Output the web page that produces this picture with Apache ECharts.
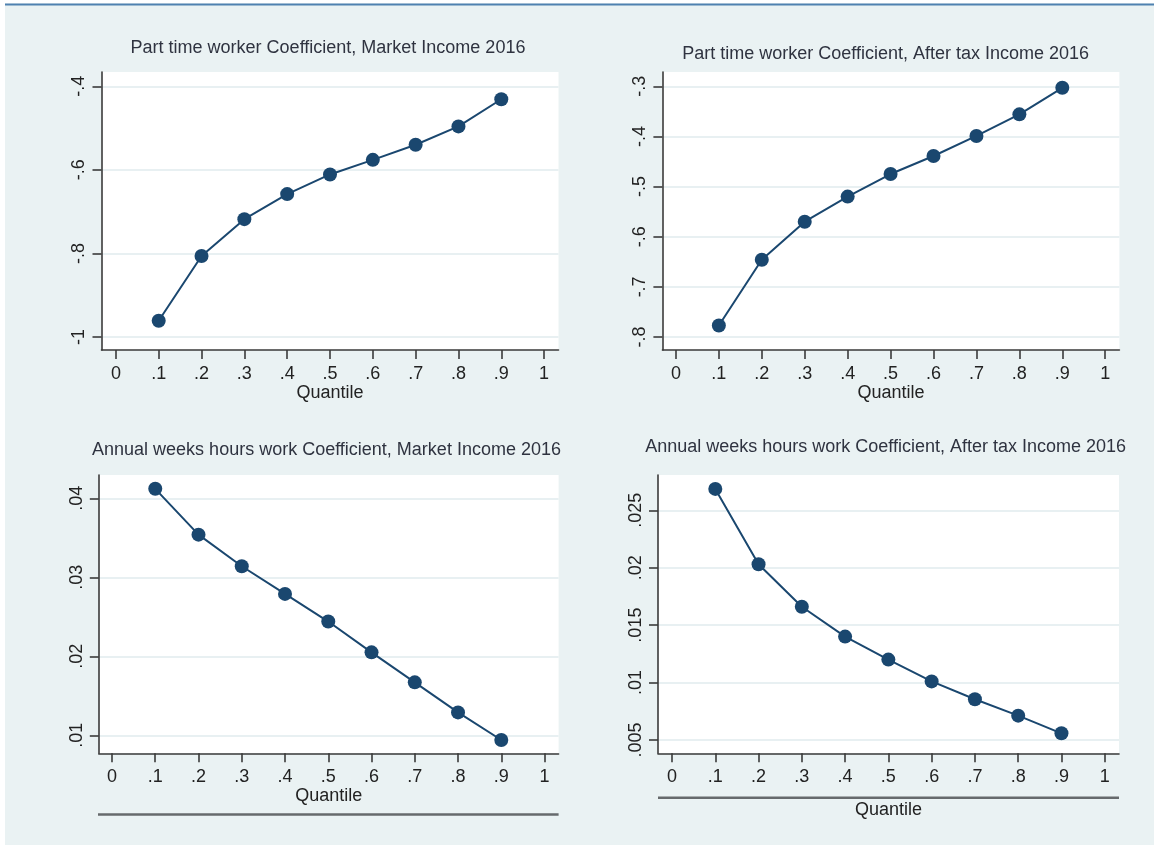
<!DOCTYPE html>
<html><head><meta charset="utf-8">
<script src="https://cdn.jsdelivr.net/npm/echarts@6/dist/echarts.min.js"></script>
<style>html,body{margin:0;padding:0;background:#fff}#c{width:1154px;height:845px}</style>
</head><body><div id="c"></div>
<script>
const quantiles = [0.1, 0.2, 0.3, 0.4, 0.5, 0.6, 0.7, 0.8, 0.9];
const xTicks = [0, 0.1, 0.2, 0.3, 0.4, 0.5, 0.6, 0.7, 0.8, 0.9, 1];

const partTimeMarket   = [-0.961, -0.806, -0.718, -0.658, -0.611, -0.576, -0.540, -0.496, -0.431];
const partTimeAfterTax = [-0.777, -0.646, -0.570, -0.520, -0.475, -0.439, -0.399, -0.356, -0.303];
const weeksHoursMarket   = [0.0412, 0.0354, 0.0314, 0.0279, 0.0244, 0.0205, 0.0167, 0.0129, 0.0094];
const weeksHoursAfterTax = [0.02686, 0.0203, 0.0166, 0.0140, 0.0120, 0.0101, 0.00855, 0.00712, 0.00558];

const yTicksPTM = [-1, -0.8, -0.6, -0.4];
const yTicksPTA = [-0.8, -0.7, -0.6, -0.5, -0.4, -0.3];
const yTicksWHM = [0.01, 0.02, 0.03, 0.04];
const yTicksWHA = [0.005, 0.01, 0.015, 0.02, 0.025];

const titles = [
  'Part time worker Coefficient, Market Income 2016',
  'Part time worker Coefficient, After tax Income 2016',
  'Annual weeks hours work Coefficient, Market Income 2016',
  'Annual weeks hours work Coefficient, After tax Income 2016'
];
const xName = 'Quantile';

const FONT = '"Liberation Sans", Arial, sans-serif';
const NAVY = '#1a476f';
const AXIS = '#3a3a3a';

function fmt(v) {
  const s = String(Math.round(v * 100000) / 100000);
  return s.replace(/^(-?)0\./, '$1.');
}

const panels = [
  {data: partTimeMarket,   yTicks: yTicksPTM, ymin: -1.0311, ymax: -0.3658, xmin: -0.0336, xmax: 1.0336,
   grid: {left: 101.5, top: 72, width: 457, height: 278}, title: {x: 328, y: 39}, nameGap: 34},
  {data: partTimeAfterTax, yTicks: yTicksPTA, ymin: -0.8259, ymax: -0.2715, xmin: -0.0315, xmax: 1.0330,
   grid: {left: 662.4, top: 72, width: 457, height: 278}, title: {x: 885.7, y: 45}, nameGap: 34},
  {data: weeksHoursMarket, yTicks: yTicksWHM, ymin: 0.00772, ymax: 0.04295, xmin: -0.0305, xmax: 1.0325,
   grid: {left: 98.8, top: 475, width: 459.8, height: 278.3}, title: {x: 326.5, y: 441}, nameGap: 34},
  {data: weeksHoursAfterTax, yTicks: yTicksWHA, ymin: 0.00384, ymax: 0.02807, xmin: -0.0324, xmax: 1.0330,
   grid: {left: 658, top: 475, width: 461, height: 278.3}, title: {x: 885.6, y: 438}, nameGap: 48}
];

const option = {
  backgroundColor: '#eaf2f3',
  animation: false,
  title: panels.map((p, i) => ({
    text: titles[i], left: p.title.x, top: p.title.y, textAlign: 'center', padding: 0,
    textStyle: {fontFamily: FONT, fontSize: 18, fontWeight: 'normal', color: '#2f3340'}
  })),
  grid: panels.map(p => Object.assign({show: true, backgroundColor: '#ffffff', borderWidth: 0, containLabel: false}, p.grid)),
  xAxis: panels.map((p, i) => ({
    type: 'value', gridIndex: i, min: p.xmin, max: p.xmax,
    name: xName, nameLocation: 'middle', nameGap: p.nameGap,
    nameTextStyle: {fontFamily: FONT, fontSize: 18, color: '#222'},
    axisLine: {show: true, onZero: false, lineStyle: {color: AXIS, width: 1.6}},
    axisTick: {show: true, length: 9, customValues: xTicks, lineStyle: {color: AXIS, width: 1.6}},
    axisLabel: {customValues: xTicks, formatter: fmt, margin: 15, fontFamily: FONT, fontSize: 18, color: '#222'},
    splitLine: {show: false}
  })),
  yAxis: panels.map((p, i) => ({
    type: 'value', gridIndex: i, min: p.ymin, max: p.ymax,
    axisLine: {show: true, onZero: false, lineStyle: {color: AXIS, width: 1.6}},
    axisTick: {show: true, length: 9, customValues: p.yTicks, lineStyle: {color: AXIS, width: 1.6}},
    axisLabel: {customValues: p.yTicks, formatter: fmt, rotate: 90, margin: 13, fontFamily: FONT, fontSize: 18, color: '#222'},
    splitLine: {show: true, lineStyle: {color: '#e8f0f2', width: 2}}
  })),
  series: panels.map((p, i) => ({
    type: 'line', xAxisIndex: i, yAxisIndex: i,
    data: quantiles.map((q, k) => [q, p.data[k]]),
    symbol: 'circle', symbolSize: 14,
    lineStyle: {color: NAVY, width: 2},
    itemStyle: {color: NAVY},
    z: 3
  })),
  graphic: [
    {type: 'rect', shape: {x: 0, y: 0, width: 5, height: 845}, style: {fill: '#ffffff'}, silent: true},
    {type: 'rect', shape: {x: 0, y: 0, width: 1154, height: 3.5}, style: {fill: '#ffffff'}, silent: true},
    {type: 'line', shape: {x1: 5, y1: 4.5, x2: 1154, y2: 4.5}, style: {stroke: '#4f81b0', lineWidth: 1.8}, silent: true},
    {type: 'line', shape: {x1: 98, y1: 814.5, x2: 558.6, y2: 814.5}, style: {stroke: '#666a6c', lineWidth: 2.4}, silent: true},
    {type: 'line', shape: {x1: 658, y1: 797.7, x2: 1119, y2: 797.7}, style: {stroke: '#666a6c', lineWidth: 2.4}, silent: true}
  ]
};

const chart = echarts.init(document.getElementById('c'), null, {renderer: 'canvas'});
chart.setOption(option);
</script>
</body></html>
